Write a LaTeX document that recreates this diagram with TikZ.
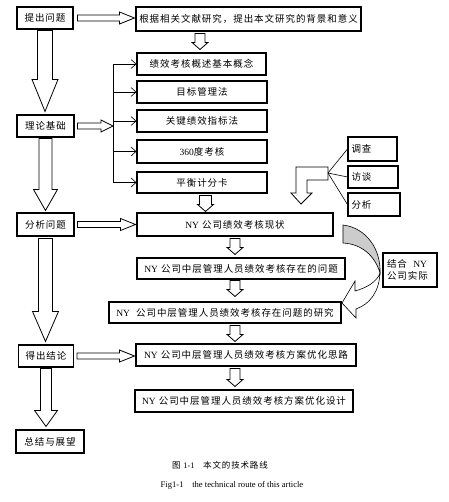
\documentclass[tikz,border=0pt]{standalone}
\usepackage{fontspec}
\setmainfont{Liberation Serif}
\newfontfamily\cjk[LetterSpace=10]{Noto Sans CJK SC}
\usetikzlibrary{calc,arrows.meta}
\newcommand\lat[1]{{\rmfamily #1}}
% horizontal block arrow: start, end, shaft half, head half, head length
\newcommand\blkR[5]{\draw[blk] let \p1=(#1),\p2=(#2) in
  (\x1,\y1+#3) -- (\x2-#5,\y1+#3) -- (\x2-#5,\y1+#4) -- (\x2,\y1) --
  (\x2-#5,\y1-#4) -- (\x2-#5,\y1-#3) -- (\x1,\y1-#3) -- cycle;}
% downward block arrow: start, end, shaft half, head half, head length
\newcommand\blkD[5]{\draw[blk] let \p1=(#1),\p2=(#2) in
  (\x1-#3,\y1) -- (\x1-#3,\y2+#5) -- (\x1-#4,\y2+#5) -- (\x1,\y2) --
  (\x1+#4,\y2+#5) -- (\x1+#3,\y2+#5) -- (\x1+#3,\y1) -- cycle;}
\begin{document}
\begin{tikzpicture}[x=1pt,y=-1pt,
  box/.style={draw,line width=1.1pt,inner sep=0pt,fill=white,
    font=\cjk\fontsize{9.5}{11}\selectfont},
  blk/.style={draw,line width=0.8pt,fill=white,line join=miter},
  thinline/.style={line width=0.6pt},
  barb/.style={-{Straight Barb[length=5pt,width=9pt]}},
  captxt/.style={inner sep=0pt}]
\useasboundingbox (0,0) rectangle (448,502);
% left column
\node[box,minimum width=56pt,minimum height=22pt] (p1) at (45,18) {提出问题};
\node[box,minimum width=57pt,minimum height=22pt] (p2) at (45.5,126) {理论基础};
\node[box,minimum width=57pt,minimum height=23pt] (p3) at (45.5,224.5) {分析问题};
\node[box,minimum width=55pt,minimum height=22pt] (p4) at (46,356) {得出结论};
\node[box,minimum width=68pt,minimum height=23pt] (p5) at (50,441.5) {总结与展望};
% right column
\node[box,minimum width=225pt,minimum height=24pt] (b0) at (248.5,19) {根据相关文献研究，提出本文研究的背景和意义};
\node[box,minimum width=129pt,minimum height=22pt] (t1) at (201.5,64) {绩效考核概述基本概念};
\node[box,minimum width=130pt,minimum height=22pt] (t2) at (202,92) {目标管理法};
\node[box,minimum width=130pt,minimum height=22pt] (t3) at (202,121) {关键绩效指标法};
\node[box,minimum width=130pt,minimum height=23pt] (t4) at (202,151.5) {\lat{360}度考核};
\node[box,minimum width=130pt,minimum height=21pt] (t5) at (202,182.5) {平衡计分卡};
\node[box,minimum width=196pt,minimum height=23pt] (a1) at (235,224.5) {\lat{NY} 公司绩效考核现状};
\node[box,minimum width=208pt,minimum height=21pt] (a2) at (241,268.5) {\lat{NY} 公司中层管理人员绩效考核存在的问题};
\node[box,minimum width=232pt,minimum height=21pt] (a3) at (225,312.5) {\lat{NY}\ \ 公司中层管理人员绩效考核存在问题的研究};
\node[box,minimum width=220pt,minimum height=22pt] (a4) at (246,355) {\lat{NY} 公司中层管理人员绩效考核方案优化思路};
\node[box,minimum width=218pt,minimum height=22pt] (a5) at (244,401) {\lat{NY} 公司中层管理人员绩效考核方案优化设计};
% methods
\node[box,minimum width=49pt,minimum height=24pt,text width=42pt,align=left] (s1) at (372.5,149) {调查};
\node[box,minimum width=50pt,minimum height=22pt,text width=43pt,align=left] (s2) at (373,177) {访谈};
\node[box,minimum width=52pt,minimum height=23pt,text width=45pt,align=left] (s3) at (374,204.5) {分析};
\node[box,minimum width=54pt,minimum height=34pt,text width=46pt,align=left,
  font=\cjk\fontsize{9.5}{12}\selectfont] (c1) at (410,270) {结合\ \ \lat{NY}\\公司实际};
% horizontal block arrows
\blkR{$(p1.east)+(4,0)$}{$(b0.west)+(-1,0)$}{3pt}{6pt}{15pt}
\coordinate (br) at (113,0);
\blkR{$(p2.east)+(3,0)$}{br |- p2.east}{3pt}{6pt}{12pt}
\blkR{$(p3.east)+(3,0)$}{$(a1.west)+(-1,0)$}{3pt}{6pt}{15pt}
\blkR{$(p4.east)+(3,0)$}{$(a4.west)+(-1,0)$}{3pt}{6pt}{15pt}
% left big down arrows
\blkD{$(p1.south)+(0,1)$}{$(p2.north)+(0,-3)$}{7.5pt}{13pt}{32pt}
\blkD{$(p2.south)+(0,1)$}{$(p3.north)+(0,-2)$}{6.5pt}{12pt}{21pt}
\blkD{$(p3.south)+(0,2)$}{$(p4.north)+(0,-3)$}{7pt}{13pt}{30pt}
\blkD{$(p4.south)+(0,1)$}{$(p5.north)+(0,-3)$}{5.5pt}{11.5pt}{16pt}
% right small down arrows
\blkD{$(b0.south -| t1.north)+(-1.5,2)$}{$(t1.north)+(-1.5,-3)$}{5pt}{8pt}{7pt}
\blkD{$(t5.south)+(3.5,2)$}{$(t5.south |- a1.north)+(3.5,-1)$}{6pt}{8pt}{7pt}
\blkD{$(a1.south)+(0,2)$}{$(a1.south |- a2.north)+(0,-3)$}{5pt}{8pt}{7pt}
\blkD{$(a2.south -| a1.south)+(0,1)$}{$(a1.south |- a3.north)+(0,-5)$}{5pt}{8pt}{7pt}
\blkD{$(a3.south -| a1.south)+(0,2)$}{$(a1.south |- a4.north)+(0,-2)$}{5pt}{8pt}{7pt}
\blkD{$(a4.south -| a1.south)+(0,2)$}{$(a1.south |- a5.north)+(0,-3)$}{5pt}{8pt}{7pt}
% bracket
\draw[thinline] (br |- t1.west) -- (br |- t5.west);
\foreach \t in {t1,t2,t3,t4,t5} \draw[thinline,barb] (br |- \t.west) -- (\t.west);
% bent arrow from methods
\coordinate (bend) at (328,173);
\draw[blk] (296,167) -- (328,167) -- (328,180) -- (307,180) -- (307,193) -- (312,193)
  -- (301,204) -- (291,193) -- (296,193) -- cycle;
\foreach \s in {s1,s2,s3} \draw[thinline] (bend) -- (\s.west);
% curved gray arrow
\draw[line width=0.6pt,fill=gray!40] (343,225) .. controls (367,228) and (381,250) .. (380,273)
  .. controls (375,256) and (362,244) .. (343,243) -- cycle;
\draw[line width=0.6pt,fill=white] (380,273) .. controls (379,292) and (370,304) .. (356,309)
  -- (356,318) -- (342,303) -- (355,281) -- (355,291)
  .. controls (366,288) and (377,282) .. (380,273) -- cycle;
% captions
\node[captxt,font=\cjk\fontsize{8.5}{10}\selectfont] (cap1) at (220,465) {图 \lat{1-1}\quad 本文的技术路线};
\node[captxt,font=\fontsize{8.6}{10}\selectfont] (cap2) at (232,485) {Fig1-1\quad the technical route of this article};
\end{tikzpicture}
\end{document}
